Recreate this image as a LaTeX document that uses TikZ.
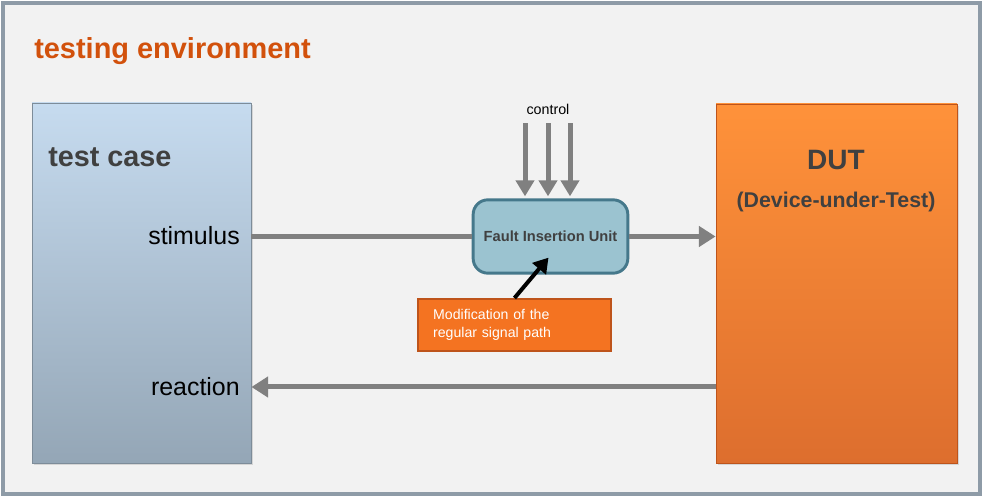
\documentclass[tikz,border=0pt]{standalone}
\usepackage{fontspec}
\setmainfont{Liberation Sans}
\usepackage{xcolor}
\usepackage{tikz}
\usetikzlibrary{arrows.meta,positioning,calc,shadows}

\definecolor{envorange}{HTML}{D2510C}
\definecolor{framegray}{HTML}{8E9BA7}
\definecolor{bggray}{HTML}{F2F2F2}
\definecolor{textgray}{HTML}{404040}
\definecolor{arrowgray}{HTML}{808080}
\definecolor{tctop}{HTML}{C6DBEF}
\definecolor{tcbottom}{HTML}{94A6B6}
\definecolor{tcborder}{HTML}{7D8C99}
\definecolor{duttop}{HTML}{FF923A}
\definecolor{dutbottom}{HTML}{DD6E2E}
\definecolor{fiublue}{HTML}{9BC3D0}
\definecolor{fiuborder}{HTML}{45788B}
\definecolor{modorange}{HTML}{F47321}
\definecolor{modborder}{HTML}{BE541B}

\begin{document}
\begin{tikzpicture}[
    x=0.75pt, y=-0.75pt,
    bigbox/.style={draw, rectangle, line width=0.6pt, drop shadow={opacity=0.25, shadow xshift=1.5pt, shadow yshift=-1.5pt}},
    fiubox/.style={draw=fiuborder, fill=fiublue, rectangle, rounded corners=11pt, line width=2.2pt, minimum width=116pt, minimum height=55pt, font=\fontsize{11}{13}\selectfont\bfseries, text=textgray},
    notebox/.style={draw=modborder, fill=modorange, rectangle, line width=1.5pt, minimum width=144.75pt, minimum height=39pt, text width=122pt, align=left, font=\fontsize{10.6}{13.5}\selectfont, text=white},
    boxtitle/.style={font=\fontsize{21.6}{25}\selectfont\bfseries, text=textgray, inner sep=0pt},
    sidelabel/.style={font=\fontsize{18.7}{22}\selectfont, inner sep=0pt},
    signal/.style={draw=arrowgray, line width=3.75pt, -{Triangle[width=15pt, length=12.5pt]}},
    ctlarrow/.style={draw=arrowgray, line width=3.75pt, -{Triangle[width=13.5pt, length=12pt]}},
    pointer/.style={draw=black, line width=3pt, -{Triangle[width=13pt, length=11pt]}}
]

    % Environment frame
    \fill[white] (0,0) rectangle (983,498);
    \draw[draw=framegray, fill=bggray, line width=3pt] (3,3) rectangle (980,494);
    \node[anchor=west, inner sep=0pt, font=\fontsize{21.7}{25}\selectfont\bfseries, text=envorange] (title) at (34,51) {testing environment};

    % Test case and DUT
    \node[bigbox, draw=tcborder, top color=tctop, bottom color=tcbottom, minimum width=164.25pt, minimum height=270pt] (tc) at (141.5,283) {};
    \node[bigbox, draw=modborder, top color=duttop, bottom color=dutbottom, minimum width=180.75pt, minimum height=269.25pt] (dut) at (836.5,283.5) {};

    \node[boxtitle, anchor=west] (tclabel) at (48,157) {test case};
    \node[boxtitle, font=\fontsize{21}{25}\selectfont\bfseries] (dutlabel) at (836,160) {DUT};
    \node[boxtitle, font=\fontsize{16}{18}\selectfont\bfseries] (dutname) at (836,202) {(Device-under-Test)};

    \node[sidelabel, anchor=east] (stim) at (240,236) {stimulus};
    \node[sidelabel, anchor=east] (reac) at (240,387) {reaction};

    % Fault insertion
    \node[fiubox] (fiu) at (550.5,236.5) {Fault Insertion Unit};
    \node[notebox] (modif) at (514.5,325) {Modification of the\\regular signal path};
    \node[inner sep=0pt, font=\fontsize{10.7}{12}\selectfont] (ctl) at (548,109) {control};

    % Connections
    \draw[draw=arrowgray, line width=3.75pt] (fiu.west -| tc.east) -- (fiu.west);
    \draw[signal] (fiu.east) -- (fiu.east -| dut.west);
    \draw[signal] (dut.west |- reac) -- (tc.east |- reac);

    \foreach \dx in {-23,0,22}
        \draw[ctlarrow] ($(ctl.south)+(\dx,9)$) -- ($(fiu.north -| ctl)+(\dx,-2)$);

    \draw[pointer] (modif.north) -- ($(fiu.south)+(-2,-17)$);

\end{tikzpicture}
\end{document}
